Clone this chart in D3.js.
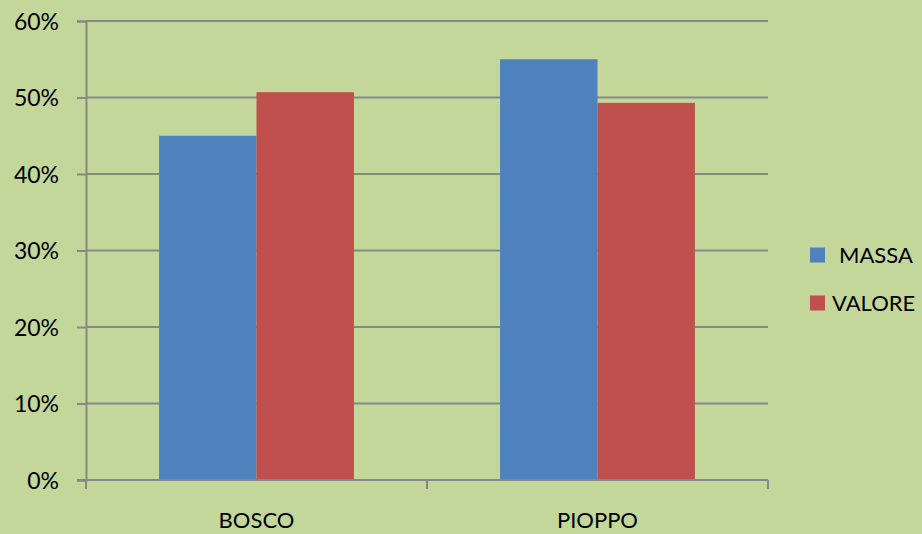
<!DOCTYPE html>
<html><head><meta charset="utf-8">
<script src="https://cdn.jsdelivr.net/npm/d3@7/dist/d3.min.js"></script>
<style>html,body{margin:0;padding:0;background:#c4d79b;}svg{display:block;}</style>
</head><body>
<svg id="c" width="922" height="534"></svg>
<script>
const categories = ["BOSCO", "PIOPPO"];
const seriesNames = ["MASSA", "VALORE"];
const massa = [0.45, 0.55];
const valore = [0.507, 0.493];
const yTicks = [0, 0.1, 0.2, 0.3, 0.4, 0.5, 0.6];

const colors = {MASSA: "#4f81bd", VALORE: "#c0504d"};
const data = categories.map((c, i) => ({cat: c, MASSA: massa[i], VALORE: valore[i]}));

const svg = d3.select("#c");
const font = "Lato, 'Open Sans', sans-serif";
const L = 86, R = 768, T = 21, B = 480;

svg.append("rect").attr("width", 922).attr("height", 534).attr("fill", "#c4d79b");

const x = d3.scaleBand().domain(categories).range([L, R]).paddingInner(0.4285).paddingOuter(0.2143);
const xs = d3.scaleBand().domain(seriesNames).range([0, x.bandwidth()]);
const y = d3.scaleLinear().domain([0, 0.6]).range([B, T]);

// gridlines
svg.append("g").selectAll("line").data(yTicks.filter(d => d > 0)).join("line")
  .attr("x1", L).attr("x2", R).attr("y1", d => y(d)).attr("y2", d => y(d))
  .attr("stroke", "#878787").attr("stroke-width", 2);

// bars
const g = svg.append("g");
data.forEach(d => {
  seriesNames.forEach(s => {
    g.append("rect")
      .attr("x", x(d.cat) + xs(s))
      .attr("y", y(d[s]))
      .attr("width", xs.bandwidth())
      .attr("height", B - y(d[s]))
      .attr("fill", colors[s]);
  });
});

// y axis
const yAxis = d3.axisLeft(y).tickValues(yTicks).tickFormat(d3.format(".0%")).tickSize(9).tickPadding(18);
const ya = svg.append("g").attr("transform", `translate(${L},0)`).call(yAxis);
ya.select(".domain").attr("stroke", "#878787").attr("stroke-width", 2);
ya.selectAll(".tick line").attr("stroke", "#878787").attr("stroke-width", 2);
ya.selectAll(".tick text").attr("fill", "#000").style("font-family", font).style("font-size", "23px").attr("dy", "0.36em");

// x axis
const xEdges = d3.scaleLinear().domain([0, categories.length]).range([L, R]);
svg.append("line").attr("x1", L - 9).attr("x2", R).attr("y1", B).attr("y2", B)
  .attr("stroke", "#878787").attr("stroke-width", 2);
svg.append("g").selectAll("line").data(d3.range(categories.length + 1)).join("line")
  .attr("x1", d => xEdges(d)).attr("x2", d => xEdges(d)).attr("y1", B).attr("y2", B + 9)
  .attr("stroke", "#878787").attr("stroke-width", 2);
svg.append("g").selectAll("text").data(categories).join("text")
  .attr("x", d => x(d) + x.bandwidth() / 2).attr("y", 528)
  .attr("text-anchor", "middle").style("font-family", font).style("font-size", "22px").attr("fill", "#000")
  .text(d => d);

// legend
const legendY = [255, 303];
const legendTextX = [839, 832];
seriesNames.forEach((s, i) => {
  svg.append("rect").attr("x", 810).attr("y", legendY[i] - 7.5).attr("width", 15).attr("height", 15).attr("fill", colors[s]);
  svg.append("text").attr("x", legendTextX[i]).attr("y", legendY[i]).attr("dy", "0.36em")
    .style("font-family", font).style("font-size", "22px").attr("fill", "#000").text(s);
});
</script>
</body></html>
